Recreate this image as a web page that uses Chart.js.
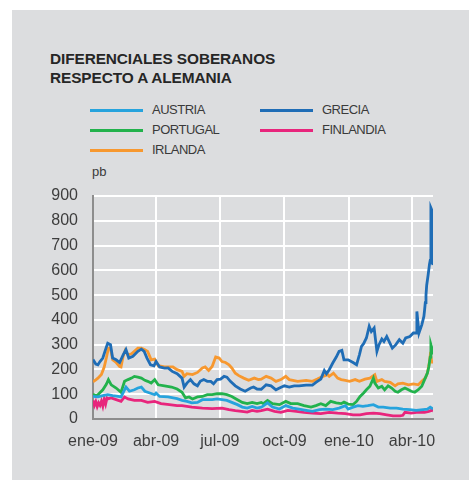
<!DOCTYPE html>
<html>
<head>
<meta charset="utf-8">
<script src="https://cdn.jsdelivr.net/npm/chart.js@4/dist/chart.umd.min.js"></script>
<style>
  html, body { margin: 0; padding: 0; background: #ffffff; }
  #wrap { position: relative; width: 469px; height: 481px; overflow: hidden; font-family: "Liberation Sans", Arial, sans-serif; }
  #panel { position: absolute; left: 12px; top: 10px; width: 457px; height: 470px; background: #dcdddf; }
  #title { position: absolute; left: 50px; top: 49px; font-size: 15.4px; font-weight: bold; line-height: 19px; color: #262626; letter-spacing: -0.1px; }
  .lg { position: absolute; font-size: 13px; color: #3a3a3a; letter-spacing: -0.5px; line-height: 14px; }
  .sw { position: absolute; height: 3px; width: 53px; }
  #pb { position: absolute; left: 92px; top: 164px; font-size: 13px; color: #3a3a3a; }
  canvas { position: absolute; left: 0; top: 0; }
</style>
</head>
<body>
<div id="wrap">
  <div id="panel"></div>
  <div id="title">DIFERENCIALES SOBERANOS<br>RESPECTO A ALEMANIA</div>
  <div id="legend"></div>
  <div id="pb">pb</div>
  <canvas id="c" width="469" height="481"></canvas>
</div>
<script>
// ---- data (day index from 1 Jan 2009, value in basis points) ----
const tickDays = [0, 90, 181, 273, 365, 455];
const tickLabels = ['ene-09', 'abr-09', 'jul-09', 'oct-09', 'ene-10', 'abr-10'];
const seriesNames = ['AUSTRIA', 'GRECIA', 'PORTUGAL', 'FINLANDIA', 'IRLANDA'];

const austria = [[0,91],[7,89],[14,94],[21,98],[28,94],[36,91],[40,89],[45,118],[47,129],[52,112],[59,118],[64,125],[69,129],[74,112],[81,105],[88,98],[90,105],[95,91],[107,89],[120,82],[127,75],[134,71],[141,65],[149,67],[156,78],[165,78],[170,78],[177,81],[184,78],[191,75],[198,67],[206,58],[213,48],[220,44],[227,51],[234,44],[240,48],[242,51],[249,65],[256,48],[266,40],[275,54],[285,44],[294,40],[304,35],[313,31],[323,38],[332,40],[342,38],[351,44],[360,54],[364,40],[371,48],[378,54],[385,51],[392,54],[400,58],[407,48],[414,48],[424,44],[433,44],[442,40],[452,38],[461,35],[471,38],[477,40],[481,48],[485,40]];

const grecia = [[0,240],[4,222],[7,219],[10,232],[14,246],[19,290],[21,306],[25,300],[28,246],[33,239],[38,228],[43,259],[47,280],[51,246],[57,253],[64,273],[69,282],[73,273],[77,246],[82,219],[87,215],[90,232],[95,210],[102,205],[107,206],[113,192],[120,183],[127,165],[130,129],[134,145],[139,159],[144,142],[149,134],[153,152],[158,159],[163,152],[168,152],[172,142],[177,159],[182,161],[187,172],[191,169],[196,152],[203,134],[210,121],[217,112],[225,125],[229,129],[234,121],[240,120],[247,138],[254,134],[261,118],[266,125],[273,134],[280,129],[287,134],[294,134],[304,137],[313,137],[318,148],[325,161],[330,196],[333,183],[337,199],[342,226],[347,250],[351,273],[355,277],[358,239],[364,239],[371,228],[376,219],[380,259],[383,293],[386,304],[390,327],[394,374],[397,353],[401,367],[405,273],[408,300],[412,323],[415,313],[419,333],[423,309],[427,286],[432,300],[437,320],[442,306],[446,327],[452,333],[457,347],[461,347],[462,434],[465,347],[469,380],[472,414],[473,440],[474,470],[475,500],[476,540],[478,580],[480,625],[481,640],[482,852],[483,845],[484,630],[485,622]];

const portugal = [[0,100],[4,95],[7,98],[14,118],[19,140],[22,159],[26,138],[33,125],[40,108],[45,152],[50,159],[55,165],[59,172],[64,169],[69,165],[74,156],[78,152],[83,145],[88,159],[93,138],[102,134],[112,129],[120,121],[127,108],[132,85],[137,89],[142,81],[149,89],[156,91],[163,98],[170,98],[177,102],[184,102],[191,98],[198,91],[206,78],[213,67],[220,62],[227,67],[234,62],[240,67],[243,62],[249,75],[256,62],[266,58],[275,71],[282,62],[292,62],[301,54],[311,48],[318,54],[325,62],[332,54],[339,71],[347,65],[354,62],[358,68],[364,60],[371,58],[376,71],[381,91],[386,105],[390,118],[395,132],[400,165],[402,145],[407,125],[412,132],[416,118],[421,134],[426,125],[431,112],[435,108],[440,118],[445,125],[450,118],[454,112],[459,108],[464,118],[469,132],[473,159],[477,185],[479,210],[481,250],[482,300],[483,290],[485,260]];

const finlandia = [[0,75],[2,55],[4,70],[6,50],[8,65],[10,55],[12,72],[14,52],[16,80],[18,60],[20,85],[22,82],[26,85],[33,78],[40,71],[45,89],[50,81],[59,75],[69,75],[78,67],[88,71],[97,62],[109,58],[120,54],[127,54],[141,48],[156,44],[170,42],[184,44],[194,38],[203,34],[212,31],[220,28],[227,35],[234,31],[240,34],[249,40],[259,31],[268,27],[278,35],[290,31],[301,27],[313,24],[325,22],[337,27],[349,24],[360,22],[371,17],[381,17],[390,22],[400,24],[409,22],[419,17],[428,13],[438,13],[442,15],[445,27],[454,24],[464,28],[473,27],[479,31],[483,35],[485,33]];

const irlanda = [[0,150],[4,158],[7,165],[12,180],[16,210],[19,246],[22,286],[25,286],[28,239],[33,228],[38,212],[40,210],[43,253],[46,277],[50,259],[55,263],[59,273],[64,286],[69,286],[74,280],[78,273],[83,239],[88,242],[93,215],[102,210],[114,210],[120,199],[127,192],[130,172],[134,183],[142,179],[149,188],[156,206],[160,210],[165,196],[170,212],[175,250],[180,246],[184,232],[189,228],[194,219],[198,206],[203,185],[208,175],[215,165],[222,156],[230,165],[236,159],[240,161],[247,172],[254,165],[261,152],[268,159],[275,172],[280,159],[292,152],[304,156],[313,152],[320,161],[328,172],[335,179],[337,172],[343,185],[349,165],[354,159],[360,156],[366,152],[374,159],[380,152],[388,161],[395,165],[400,175],[402,179],[405,152],[412,159],[416,152],[424,148],[431,134],[435,142],[442,145],[450,138],[457,142],[464,138],[469,152],[474,165],[477,185],[480,230],[481,255],[482,250],[483,235],[485,225]];

// ---- styling ----
const seriesData = [austria, grecia, portugal, finlandia, irlanda];
const seriesColors = ['#26a3dd', '#1f6db6', '#22b24c', '#e8257c', '#f7982f'];
const legendPos = [[90,110],[260,110],[90,130],[260,130],[90,150]];

const leg = document.getElementById('legend');
seriesNames.forEach((n, i) => {
  const [lx, ly] = legendPos[i];
  const s = document.createElement('div');
  s.className = 'sw'; s.style.left = lx + 'px'; s.style.top = (ly - 1.5) + 'px';
  s.style.background = seriesColors[i];
  leg.appendChild(s);
  const t = document.createElement('div');
  t.className = 'lg'; t.textContent = n;
  t.style.left = (lx + 62) + 'px'; t.style.top = (ly - 7) + 'px';
  leg.appendChild(t);
});

const font = { family: '"Liberation Sans", Arial, sans-serif', size: 16 };
new Chart(document.getElementById('c'), {
  type: 'line',
  data: {
    datasets: seriesNames.map((n, i) => ({
      label: n,
      data: seriesData[i].map(p => ({ x: p[0], y: p[1] })),
      borderColor: seriesColors[i],
      backgroundColor: seriesColors[i],
      borderWidth: 2.8,
      pointRadius: 0,
      tension: 0,
      fill: false
    }))
  },
  options: {
    responsive: false,
    animation: false,
    events: [],
    layout: { padding: { left: 0, right: 36, top: 196, bottom: 0 } },
    plugins: { legend: { display: false }, tooltip: { enabled: false } },
    scales: {
      x: {
        type: 'linear', min: 0, max: 485,
        afterBuildTicks: s => { s.ticks = tickDays.map(v => ({ value: v })); },
        afterFit: s => { s.height = 62; },
        ticks: {
          autoSkip: false, maxRotation: 0, minRotation: 0, padding: 13,
          color: '#3d3d3d', font: font,
          callback: (v) => { const k = tickDays.indexOf(v); return k >= 0 ? tickLabels[k] : ''; }
        },
        grid: { color: '#ffffff', lineWidth: 2, drawTicks: false },
        border: { color: '#8d8d8d', width: 2 }
      },
      y: {
        min: 0, max: 900,
        afterFit: s => { s.width = 93; },
        ticks: { stepSize: 100, padding: 15, color: '#3d3d3d', font: font },
        grid: { color: '#ffffff', lineWidth: 2, drawTicks: false },
        border: { color: '#8d8d8d', width: 2 }
      }
    }
  }
});
</script>
</body>
</html>
